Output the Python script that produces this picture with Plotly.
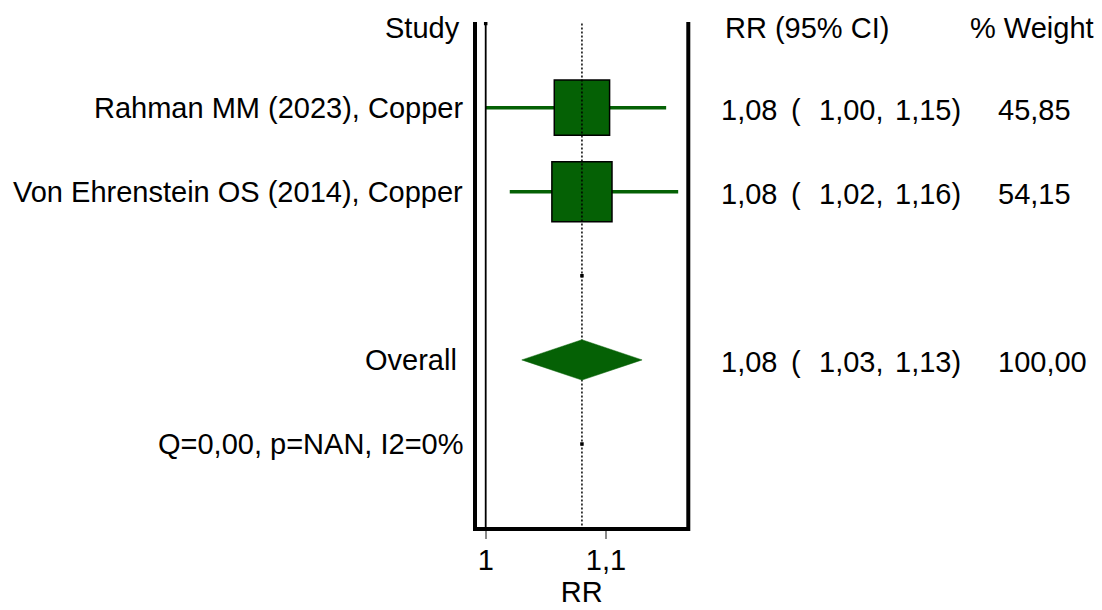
import plotly.graph_objects as go

# ---- data ----
studies = ["Rahman MM (2023), Copper", "Von Ehrenstein OS (2014), Copper"]
rr = [1.08, 1.08]
ci_lo = [1.00, 1.02]
ci_hi = [1.15, 1.16]
weights = [45.85, 54.15]

overall_label = "Overall"
overall_rr = 1.08
overall_lo = 1.03
overall_hi = 1.13
overall_weight = 100.00

heterogeneity = "Q=0,00, p=NAN, I2=0%"
x_tickvals = [1, 1.1]
x_ticktext = ["1", "1,1"]

# ---- layout constants ----
W, H = 1102, 610
FONT = "Liberation Sans, Arial, sans-serif"
FS = 29
GREEN = "#056105"

x_range = [0.99111, 1.16841]
x_dom_px = [475.0, 688.3]
y_range = [6.011, -0.019]          # rows, top to bottom
y_dom_px = [22.0, 529.0]           # top, bottom in pixels

x_domain = [x_dom_px[0] / W, x_dom_px[1] / W]
y_domain = [(H - y_dom_px[1]) / H, (H - y_dom_px[0]) / H]

study_rows = [1, 2]
blank_row = 3
overall_row = 4
het_row = 5


def fmt(v):
    return f"{v:.2f}".replace(".", ",")


fig = go.Figure()

# confidence interval whiskers
for r, lo, hi in zip(study_rows, ci_lo, ci_hi):
    fig.add_trace(go.Scatter(x=[lo, hi], y=[r, r], mode="lines",
                             line=dict(color=GREEN, width=3.5),
                             hoverinfo="skip", showlegend=False))

# weight-scaled boxes (side proportional to sqrt(weight))
box_px = [8.17 * w ** 0.5 for w in weights]
fig.add_trace(go.Scatter(x=rr, y=study_rows, mode="markers",
                         marker=dict(symbol="square", size=box_px, color=GREEN,
                                     opacity=1,
                                     line=dict(color="black", width=1.5)),
                         hoverinfo="skip", showlegend=False))

# pooled estimate reference line (dotted)
fig.add_trace(go.Scatter(x=[overall_rr, overall_rr], y=[0, y_range[0]], mode="lines",
                         line=dict(color="black", width=1.5, dash="2px,2px"),
                         hoverinfo="skip", showlegend=False))

# overall diamond
dh = 0.24
fig.add_trace(go.Scatter(x=[overall_lo, overall_rr, overall_hi, overall_rr, overall_lo],
                         y=[overall_row, overall_row - dh, overall_row, overall_row + dh, overall_row],
                         mode="lines", fill="toself", fillcolor=GREEN,
                         line=dict(color=GREEN, width=0.5),
                         hoverinfo="skip", showlegend=False))

# null line at RR = 1
fig.add_trace(go.Scatter(x=[1, 1], y=[0, y_range[0]], mode="lines",
                         line=dict(color="black", width=1.8),
                         hoverinfo="skip", showlegend=False))

# small point markers
fig.add_trace(go.Scatter(x=[1, overall_rr, overall_rr], y=[0, blank_row, het_row],
                         mode="markers",
                         marker=dict(symbol="square", size=3.5, color="black", opacity=1),
                         hoverinfo="skip", showlegend=False))

annotations = []


def txt(text, xpx, row, anchor, yshift=0):
    annotations.append(dict(text=text, x=xpx / W, xref="paper", y=row, yref="y",
                            xanchor=anchor, yanchor="middle", showarrow=False,
                            yshift=yshift,
                            font=dict(family=FONT, size=FS, color="black")))


# header row
txt("Study", 462, 0.05, "right")
txt("RR (95% CI)", 723, 0.05, "left")
txt("% Weight", 968, 0.05, "left")

# study rows
for r, name, e, lo, hi, w in zip(study_rows, studies, rr, ci_lo, ci_hi, weights):
    txt(name, 465, r, "right")
    txt(fmt(e), 719, r, "left", -2)
    txt("(", 789, r, "left", -2)
    txt(fmt(lo) + ",", 817, r, "left", -2)
    txt(fmt(hi) + ")", 893, r, "left", -2)
    txt(fmt(w), 996, r, "left", -2)

# overall row
txt(overall_label, 459, overall_row, "right")
txt(fmt(overall_rr), 719, overall_row, "left", -2)
txt("(", 789, overall_row, "left", -2)
txt(fmt(overall_lo) + ",", 817, overall_row, "left", -2)
txt(fmt(overall_hi) + ")", 893, overall_row, "left", -2)
txt(fmt(overall_weight), 996, overall_row, "left", -2)

# heterogeneity
txt(heterogeneity, 466, het_row, "right")

# plot frame: left, bottom, right (open at top)
xl, xr = x_domain
yb, yt = y_domain
frame_path = f"M {xl},{yt} L {xl},{yb} L {xr},{yb} L {xr},{yt}"

fig.update_layout(
    width=W, height=H,
    margin=dict(l=0, r=0, t=0, b=0),
    paper_bgcolor="white", plot_bgcolor="white",
    showlegend=False,
    annotations=annotations,
    shapes=[dict(type="path", path=frame_path, xref="paper", yref="paper",
                 line=dict(color="black", width=4), layer="above")],
    xaxis=dict(domain=x_domain, range=x_range, showgrid=False, zeroline=False,
               showline=False, tickvals=x_tickvals, ticktext=x_ticktext,
               ticks="outside", ticklen=9, tickwidth=2, tickcolor="#8a8a8a",
               ticklabelstandoff=-4,
               tickfont=dict(family=FONT, size=FS, color="black"),
               title=dict(text="RR", font=dict(family=FONT, size=FS, color="black"),
                          standoff=3)),
    yaxis=dict(domain=y_domain, range=y_range, visible=False),
)

fig.write_html("out.html")
